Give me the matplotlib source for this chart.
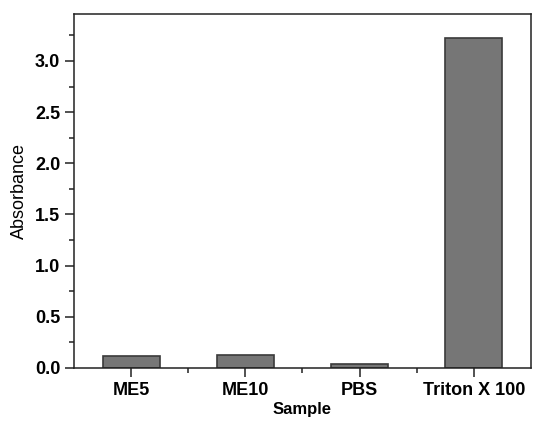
import matplotlib
matplotlib.use('Agg')
import matplotlib.pyplot as plt
from matplotlib.ticker import MultipleLocator, FixedLocator

plt.rcParams['font.family'] = 'Liberation Sans'

samples = ['ME5', 'ME10', 'PBS', 'Triton X 100']
absorbance = [0.115, 0.13, 0.035, 3.22]

fig = plt.figure(figsize=(5.33, 4.21), dpi=100)
ax = fig.add_axes([0.139, 0.126, 0.857, 0.841])

x = list(range(1, len(samples) + 1))
ax.bar(x, absorbance, width=0.5, color='#767676', edgecolor='#3a3a3a', linewidth=1.2)

ax.set_xlim(0.5, 4.5)
ax.set_ylim(0, 3.46)
ax.set_xticks(x)
ax.set_xticklabels(samples, fontsize=13, fontweight='bold')
ax.xaxis.set_minor_locator(FixedLocator([1.5, 2.5, 3.5]))
ax.yaxis.set_major_locator(MultipleLocator(0.5))
ax.yaxis.set_minor_locator(MultipleLocator(0.25))
ax.set_yticklabels([f'{v:.1f}' for v in ax.get_yticks()], fontsize=13, fontweight='bold')

ax.tick_params(which='major', direction='out', length=6.5, width=1.1, color='#222222')
ax.tick_params(which='minor', direction='out', length=3.5, width=1.1, color='#222222')
ax.tick_params(top=False, right=False)
for s in ax.spines.values():
    s.set_linewidth(1.1)
    s.set_color('#222222')

ax.set_ylabel('Absorbance', fontsize=13, labelpad=5)
ax.set_xlabel('Sample', fontsize=12, fontweight='bold', labelpad=2)

fig.savefig('out.png', dpi=100)
